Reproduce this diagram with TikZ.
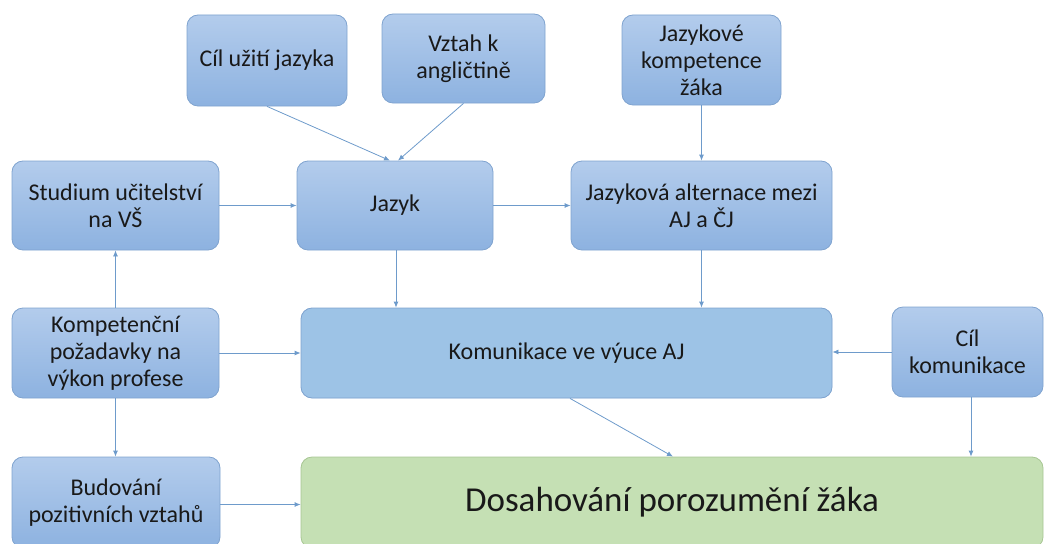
\documentclass[tikz,border=0pt]{standalone}
\usepackage{fontspec}
\setmainfont{Carlito}
\usetikzlibrary{arrows.meta}
\definecolor{boxtop}{HTML}{B3CCEC}
\definecolor{boxbot}{HTML}{8DB2E0}
\definecolor{boxline}{HTML}{7FA3CF}
\definecolor{flatblue}{HTML}{9DC3E6}
\definecolor{goalfill}{HTML}{C5E0B4}
\definecolor{goalline}{HTML}{A7C693}
\definecolor{arrowblue}{HTML}{6E9BCB}
\tikzset{
  x=1pt, y=-1pt,
  box/.style={draw=boxline, line width=0.8pt, rounded corners=11pt,
    top color=boxtop, bottom color=boxbot, align=center,
    text=black!90, inner sep=0pt,
    font=\fontsize{24}{27}\selectfont},
  flatbox/.style={box, fill=flatblue, top color=flatblue, bottom color=flatblue},
  goalbox/.style={draw=goalline, line width=0.8pt, rounded corners=11pt,
    fill=goalfill, align=center, text=black!90, inner sep=0pt,
    font=\fontsize{35}{40}\selectfont},
  arr/.style={draw=arrowblue, line width=0.8pt,
    -{Latex[length=6pt,width=5pt]}},
}
\begin{document}
\begin{tikzpicture}
\useasboundingbox (0,0) rectangle (1051,543);
\clip (0,0) rectangle (1051,543);

% top row
\node[box, minimum width=160pt, minimum height=91pt] (cil) at (267,60.5) {Cíl užití jazyka};
\node[box, minimum width=163pt, minimum height=89pt] (vztah) at (463.5,58.5) {Vztah k\\angličtině};
\node[box, minimum width=159pt, minimum height=90pt] (komp) at (701.5,60) {Jazykové\\kompetence\\žáka};

% second row
\node[box, minimum width=207pt, minimum height=89pt] (studium) at (115.5,205.5) {Studium učitelství\\na VŠ};
\node[box, minimum width=196pt, minimum height=89pt] (jazyk) at (395,205.5) {Jazyk};
\node[box, minimum width=261pt, minimum height=89pt] (altern) at (701.5,205.5) {Jazyková alternace mezi\\AJ a ČJ};

% third row
\node[box, minimum width=207pt, minimum height=90pt] (pozad) at (115.5,353) {Kompetenční\\požadavky na\\výkon profese};
\node[flatbox, minimum width=531pt, minimum height=90pt] (komun) at (566.5,353) {Komunikace ve výuce AJ};
\node[box, minimum width=151pt, minimum height=90pt] (cilkom) at (967.5,352) {Cíl\\komunikace};

% bottom row
\node[box, minimum width=208pt, minimum height=91pt] (budov) at (116,502.5) {Budování\\pozitivních vztahů};
\node[goalbox, minimum width=742pt, minimum height=91pt] (dosah) at (672,502.5) {Dosahování porozumění žáka};

% connectors
\draw[arr] (cil.south) -- ([xshift=-5pt]jazyk.north);
\draw[arr] (vztah.south) -- ([xshift=3pt]jazyk.north);
\draw[arr] (komp.south) -- (altern.north);
\draw[arr] (studium.east) -- (jazyk.west);
\draw[arr] (jazyk.east) -- (altern.west);
\draw[arr] (pozad.north) -- (studium.south);
\draw[arr] ([xshift=1pt]jazyk.south) -- ([xshift=1pt]jazyk.south |- komun.north);
\draw[arr] (altern.south) -- (altern.south |- komun.north);
\draw[arr] (pozad.east) -- (pozad.east -| komun.west);
\draw[arr] (cilkom.west) -- (cilkom.west -| komun.east);
\draw[arr] ([xshift=3.5pt]komun.south) -- ([xshift=1pt]dosah.north);
\draw[arr] ([xshift=3.5pt]cilkom.south) -- ([xshift=3.5pt]cilkom.south |- dosah.north);
\draw[arr] (pozad.south) -- (pozad.south |- budov.north);
\draw[arr] ([yshift=-2pt]budov.east) -- ([yshift=-2pt]budov.east -| dosah.west);
\end{tikzpicture}
\end{document}
